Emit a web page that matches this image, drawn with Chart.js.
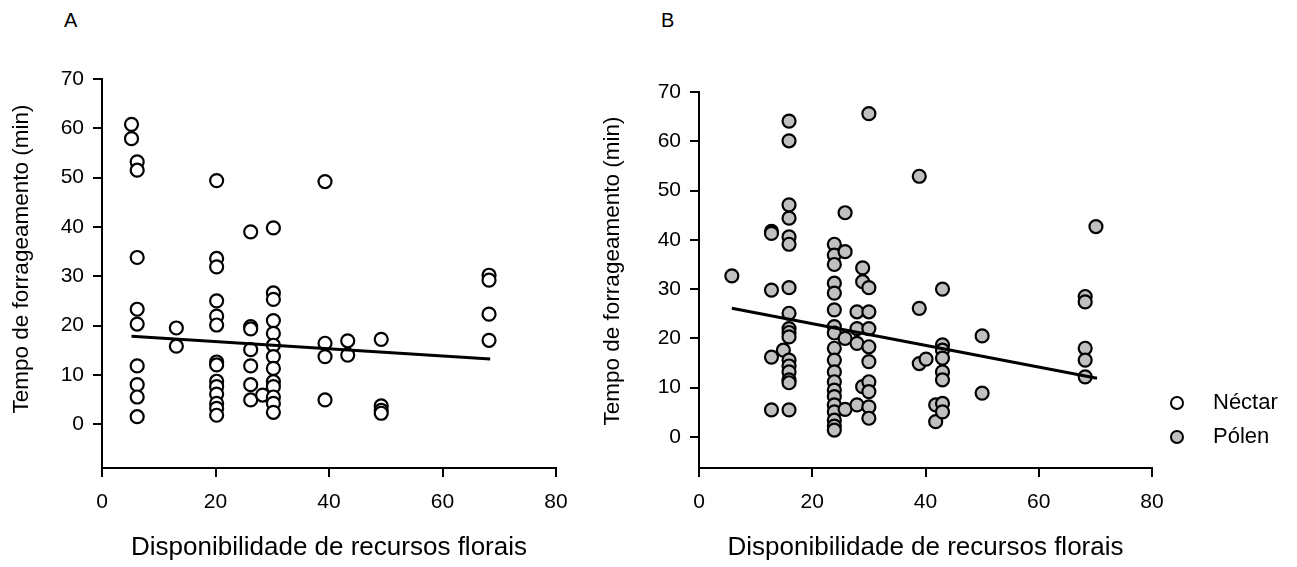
<!DOCTYPE html>
<html>
<head>
<meta charset="utf-8">
<script src="https://cdn.jsdelivr.net/npm/chart.js@4.4.1/dist/chart.umd.min.js"></script>
<style>
body{margin:0;background:#fff;width:1297px;height:567px;position:relative;overflow:hidden;font-family:"Liberation Sans",Arial,sans-serif;color:#000}
.panel{position:absolute;top:0;height:567px}
#pa{left:0;width:600px}
#pb{left:600px;width:697px}
.tag{position:absolute;top:9px;font-size:20px;line-height:22px}
.leg{position:absolute;left:1170px;font-size:22px;line-height:24px;height:24px}
.dot{position:absolute;left:0;top:5px;width:10px;height:10px;border:2px solid #000;border-radius:50%}
.leg span{position:absolute;left:43px;top:-1px;white-space:nowrap}
</style>
</head>
<body>
<div class="tag" style="left:64px">A</div>
<div class="tag" style="left:661px">B</div>
<div class="panel" id="pa"><canvas id="ca" width="600" height="567"></canvas></div>
<div class="panel" id="pb"><canvas id="cb" width="697" height="567"></canvas></div>
<div class="leg" style="top:391px"><div class="dot" style="background:#fff"></div><span>Néctar</span></div>
<div class="leg" style="top:425px"><div class="dot" style="background:#c0c0c0"></div><span>Pólen</span></div>
<script>
// panel A - nectar, columns of x with their y values
var nectarX = [5.2, 6.2, 13.1, 20.2, 26.2, 28.3, 30.2, 39.3, 43.3, 49.2, 68.2];
var nectarY = [
	[60.8, 57.9],
	[53.2, 51.5, 33.8, 23.3, 20.3, 11.8, 8.0, 5.5, 1.5],
	[19.5, 15.8],
	[49.4, 33.6, 31.9, 25.0, 21.9, 20.1, 12.6, 12.0, 8.7, 7.6, 6.1, 4.2, 3.2, 1.8],
	[39.0, 19.8, 19.3, 15.1, 11.8, 8.0, 4.9],
	[5.9],
	[39.8, 26.6, 25.3, 21.0, 18.4, 16.0, 13.7, 11.3, 8.6, 7.6, 5.5, 4.2, 2.4],
	[49.2, 16.4, 13.7, 4.9],
	[16.9, 14.0],
	[17.2, 3.7, 2.8, 2.2],
	[30.2, 29.2, 22.3, 17.0]
];
var fitAX = [5.2, 68.4];
var fitAY = [17.8, 13.2];

// panel B - pollen
var polenX = [5.8, 12.8, 14.9, 15.9, 23.9, 25.8, 27.9, 28.9, 30.0, 38.9, 40.1, 41.8, 43.0, 50.0, 68.2, 70.1];
var polenY = [
	[32.7],
	[41.7, 41.3, 29.8, 16.2, 5.5],
	[17.6],
	[64.1, 60.1, 47.1, 44.4, 40.6, 39.1, 30.3, 25.1, 22.0, 21.2, 20.3, 15.6, 14.4, 13.2, 11.6, 11.0, 5.5],
	[39.1, 36.9, 35.0, 31.2, 29.2, 25.8, 22.4, 21.1, 18.0, 15.6, 13.2, 11.2, 9.5, 8.2, 6.5, 5.1, 3.4, 2.2, 1.4],
	[45.5, 37.6, 20.0, 5.6],
	[25.4, 22.0, 19.0, 6.5],
	[34.3, 31.5, 10.2],
	[65.6, 30.3, 25.4, 22.0, 18.3, 15.3, 11.2, 9.2, 6.1, 3.8],
	[52.9, 26.1, 14.9],
	[15.8],
	[6.5, 3.1],
	[30.0, 18.7, 17.6, 16.0, 13.2, 11.6, 6.8, 5.1],
	[20.5, 8.9],
	[28.5, 27.4, 18.0, 15.6, 12.2],
	[42.7]
];
var fitBX = [5.8, 70.3];
var fitBY = [26.1, 11.9];

var xTicks = [0, 20, 40, 60, 80];
var yTicks = [0, 10, 20, 30, 40, 50, 60, 70];

var xTitle = 'Disponibilidade de recursos florais';
var yTitle = 'Tempo de forrageamento (min)';

var FONT = '"Liberation Sans", Arial, sans-serif';
Chart.defaults.font.family = FONT;
Chart.defaults.color = '#000';

function toPoints(xs, ys){
	var pts = [];
	for(var i = 0; i < xs.length; i++){
		for(var j = 0; j < ys[i].length; j++){
			pts.push({x: xs[i], y: ys[i][j]});
		}
	}
	return pts;
}

function toLine(xs, ys){
	return xs.map(function(x, i){ return {x: x, y: ys[i]}; });
}

function yTitlePlugin(x, y){
	return {
		id: 'ytitle',
		afterDraw: function(chart){
			var c = chart.ctx;
			c.save();
			c.translate(x, y);
			c.rotate(-Math.PI / 2);
			c.font = '22.5px ' + FONT;
			c.fillStyle = '#000';
			c.textAlign = 'center';
			c.textBaseline = 'middle';
			c.fillText(yTitle, 0, 0);
			c.restore();
		}
	};
}

function makeChart(id, pts, fit, fill, yMin, axisW, pad, titlePos){
	var tickGrid = {display: true, drawOnChartArea: false, drawTicks: true, tickLength: 9, color: '#000', lineWidth: 2};
	var axisBorder = {display: true, color: '#000', width: 2};

	return new Chart(document.getElementById(id), {
		type: 'scatter',
		data: {
			datasets: [
				{
					data: fit,
					showLine: true,
					borderColor: '#000',
					borderWidth: 3,
					pointRadius: 0,
					fill: false,
					order: 0
				},
				{
					data: pts,
					pointRadius: 6.5,
					pointBorderWidth: 2.2,
					borderColor: '#000',
					backgroundColor: fill,
					order: 1
				}
			]
		},
		options: {
			responsive: false,
			animation: false,
			layout: {padding: pad},
			plugins: {legend: {display: false}, tooltip: {enabled: false}},
			scales: {
				x: {
					type: 'linear',
					min: 0,
					max: 80,
					afterBuildTicks: function(s){ s.ticks = xTicks.map(function(v){ return {value: v}; }); },
					afterFit: function(s){ s.height = 99; },
					grid: tickGrid,
					border: axisBorder,
					ticks: {font: {size: 21}, padding: 13, maxRotation: 0},
					title: {display: true, text: xTitle, font: {size: 26}, padding: {top: 0, bottom: 4}}
				},
				y: {
					type: 'linear',
					min: yMin,
					max: 70,
					afterBuildTicks: function(s){ s.ticks = yTicks.map(function(v){ return {value: v}; }); },
					afterFit: function(s){ s.width = axisW; },
					grid: tickGrid,
					border: axisBorder,
					ticks: {font: {size: 21}, padding: 9}
				}
			}
		},
		plugins: [yTitlePlugin(titlePos[0], titlePos[1])]
	});
}

makeChart('ca', toPoints(nectarX, nectarY), toLine(fitAX, fitAY), '#ffffff', -8.9, 102,
	{left: 0, right: 44, top: 79, bottom: 0}, [22, 259]);
makeChart('cb', toPoints(polenX, polenY), toLine(fitBX, fitBY), '#c0c0c0', -6.3, 99,
	{left: 0, right: 145, top: 92, bottom: 0}, [13, 271]);
</script>
</body>
</html>
